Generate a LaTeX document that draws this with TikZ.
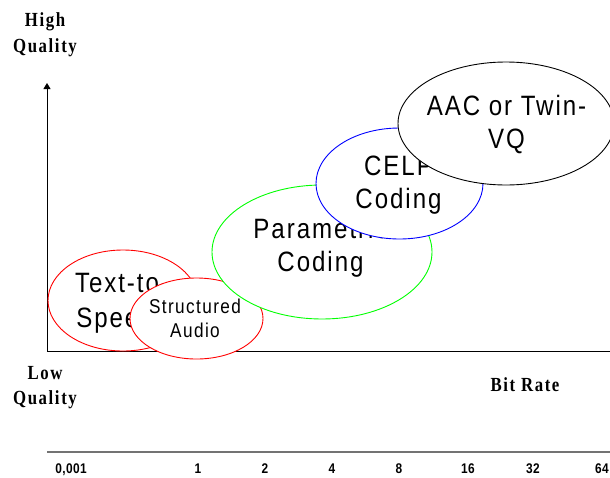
\documentclass[tikz,border=0pt]{standalone}
\usepackage{fontspec}
\setmainfont{Liberation Serif}
\setsansfont{Liberation Sans}
\newfontfamily\bubfont[FakeStretch=0.86, LetterSpace=7]{Liberation Sans}
\newfontfamily\labfont[FakeStretch=0.84, LetterSpace=8]{Liberation Serif}
\newfontfamily\tickfont[FakeStretch=0.85, LetterSpace=3]{Liberation Sans}
\usetikzlibrary{shapes.geometric,arrows.meta}
\tikzset{
  bubble/.style={ellipse, draw, fill=white, line width=0.9pt, inner sep=0pt},
  bigtxt/.style={font=\bubfont\fontsize{28}{33}\selectfont, anchor=base, inner sep=0pt},
  midtxt/.style={font=\bubfont\fontsize{20}{24}\selectfont, anchor=base, inner sep=0pt},
  axlab/.style={font=\labfont\bfseries\fontsize{20}{24}\selectfont, anchor=base, inner sep=0pt},
  ticklab/.style={font=\tickfont\bfseries\fontsize{14}{16}\selectfont, anchor=base, inner sep=0pt},
  axisline/.style={line width=1pt, black},
}
\begin{document}
\begin{tikzpicture}[x=1pt,y=-1pt]
\useasboundingbox[fill=white] (0,0) rectangle (610,477);
% axes
\coordinate (o) at (47,351);
\coordinate (ytop) at (47,83);
\coordinate (xend) at (610,351);
\draw[axisline] (xend) -- (o);
\draw[axisline, -{Triangle[width=7pt,length=6pt]}] (o) -- (ytop);
% axis labels
\node[axlab] (high) at (45,26) {High};
\node[axlab] (highq) at (45,52) {Quality};
\node[axlab] (low) at (45,379) {Low};
\node[axlab] (lowq) at (45,404) {Quality};
\node[axlab] (bitrate) at (525,391) {Bit Rate};
% text-to-speech
\node[bubble, draw=red, minimum width=150pt, minimum height=101pt] (tts) at (123,300.5) {};
\node[bigtxt] (tts1) at (122,292) {Text-to-};
\node[bigtxt] (tts2) at (122,327) {Speech};
% structured audio
\node[bubble, draw=red, minimum width=133pt, minimum height=81pt] (sa) at (196.5,318.5) {};
\node[midtxt] (sa1) at (195,313) {Structured};
\node[midtxt] (sa2) at (195,337) {Audio};
% parametric coding
\node[bubble, draw=green, minimum width=220pt, minimum height=134pt] (pc) at (322,252) {};
\node[bigtxt] (pc1) at (320.5,238) {Parametric};
\node[bigtxt] (pc2) at (320.5,271) {Coding};
% CELP
\node[bubble, draw=blue, minimum width=167pt, minimum height=111pt] (celp) at (399.5,183.5) {};
\node[bigtxt] (celp1) at (398.5,175) {CELP};
\node[bigtxt] (celp2) at (398.5,208) {Coding};
% AAC
\node[bubble, draw=black, minimum width=216pt, minimum height=123pt] (aac) at (506,123.5) {};
\node[bigtxt] (aac1) at (506.5,115) {AAC or Twin-};
\node[bigtxt] (aac2) at (506.5,148) {VQ};
% bit rate scale
\coordinate (s0) at (47,452);
\coordinate (s1) at (610,452);
\draw[line width=1.5pt, black!55] (s0) -- (s1);
\node[ticklab] (t0) at (71,473) {0,001};
\node[ticklab] (t1) at (198,473) {1};
\node[ticklab] (t2) at (265,473) {2};
\node[ticklab] (t4) at (332,473) {4};
\node[ticklab] (t8) at (399,473) {8};
\node[ticklab] (t16) at (468,473) {16};
\node[ticklab] (t32) at (533,473) {32};
\node[ticklab] (t64) at (602,473) {64};
\end{tikzpicture}
\end{document}
